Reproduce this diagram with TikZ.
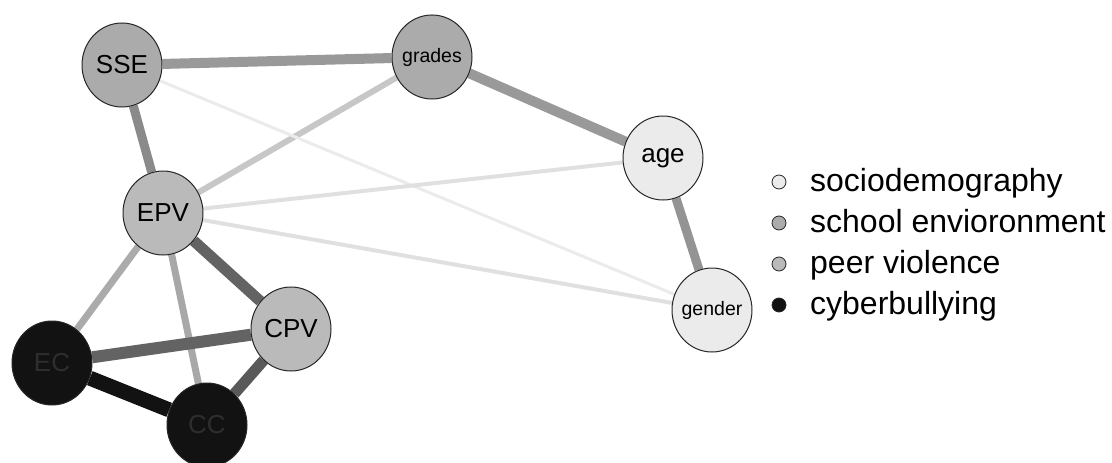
\documentclass[tikz,border=0pt]{standalone}
\usepackage{fontspec}
\setmainfont{Liberation Sans}
\usetikzlibrary{shapes.geometric,backgrounds}
\definecolor{sociocol}{gray}{0.92}
\definecolor{schoolcol}{gray}{0.67}
\definecolor{peercol}{gray}{0.73}
\definecolor{cybercol}{gray}{0.07}

\begin{document}
\begin{tikzpicture}[x=1pt,y=-1pt]
\tikzstyle{var}=[ellipse,draw=black!85,line width=1pt,minimum width=80pt,minimum height=84pt,inner sep=-8pt,font=\fontsize{26}{26}\selectfont]
\tikzstyle{small}=[font=\fontsize{19.5}{20}\selectfont]
\tikzstyle{key}=[circle,draw=black!85,line width=0.8pt,minimum size=14pt,inner sep=0pt]
\tikzstyle{keytext}=[anchor=base west,inner sep=0pt,font=\fontsize{32}{32}\selectfont]

\useasboundingbox (0,0) rectangle (1112,463);

\node (SSE) [var,fill=schoolcol] at (122,65) {SSE};
\node (grades) [var,small,fill=schoolcol] at (432,57) {grades};
\node (EPV) [var,fill=peercol] at (163,213) {EPV};
\node (CPV) [var,fill=peercol] at (291,329) {CPV};
\node (EC) [var,fill=cybercol,text=black!82] at (52,363) {EC};
\node (CC) [var,fill=cybercol,text=black!82] at (207,425) {CC};
\node (age) [var,fill=sociocol] at (663,158) {age};
\node (gender) [var,small,fill=sociocol] at (712,310) {gender};

\begin{scope}[on background layer]
\draw [line width=10pt,black!40] (SSE) -- (grades);
\draw [line width=10pt,black!40] (grades) -- (age);
\draw [line width=9pt,black!42] (age) -- (gender);
\draw [line width=9pt,black!46] (SSE) -- (EPV);
\draw [line width=6pt,black!22] (grades) -- (EPV);
\draw [line width=3pt,black!8] (SSE) -- (gender);
\draw [line width=4pt,black!12] (EPV) -- (age);
\draw [line width=4pt,black!12] (EPV) -- (gender);
\draw [line width=7pt,black!33] (EPV) -- (EC);
\draw [line width=7pt,black!34] (EPV) -- (CC);
\draw [line width=11pt,black!61] (EPV) -- (CPV);
\draw [line width=12pt,black!61] (EC) -- (CPV);
\draw [line width=11pt,black!65] (CPV) -- (CC);
\draw [line width=15pt,black!93] (EC) -- (CC);
\end{scope}

% legend
\node (k1) [key,fill=sociocol] at (779,182) {};
\node (k2) [key,fill=schoolcol] at (779,223) {};
\node (k3) [key,fill=peercol] at (779,264) {};
\node (k4) [key,fill=cybercol] at (779,305) {};
\node (t1) [keytext] at (810,191) {sociodemography};
\node (t2) [keytext] at (810,232) {school envioronment};
\node (t3) [keytext] at (810,273) {peer violence};
\node (t4) [keytext] at (810,314) {cyberbullying};

\end{tikzpicture}
\end{document}
